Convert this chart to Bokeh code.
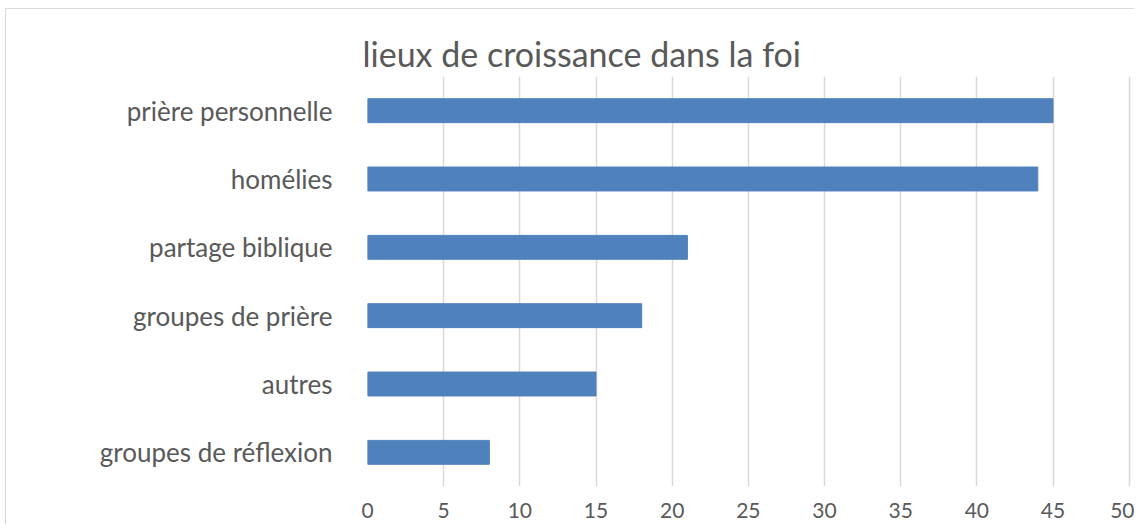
from bokeh.plotting import figure
from bokeh.models import FactorRange, Range1d, FixedTicker
from bokeh.embed import file_html
from bokeh.resources import INLINE

categories = ["prière personnelle", "homélies", "partage biblique",
              "groupes de prière", "autres", "groupes de réflexion"]
values = [45, 44, 21, 18, 15, 8]
x_ticks = [0, 5, 10, 15, 20, 25, 30, 35, 40, 45, 50]

FONT = "Lato"
TEXT = "#595959"

p = figure(width=1134, height=524, output_backend="svg", toolbar_location=None,
           y_range=FactorRange(*list(reversed(categories)), range_padding=0),
           x_range=Range1d(0, 50.35),
           title="lieux de croissance dans la foi",
           min_border_left=367, min_border_right=0,
           min_border_top=76, min_border_bottom=38)

p.hbar(y=categories, right=values, left=0, height=0.35,
       fill_color="#4F81BD", line_color="#4F81BD")

p.title.text_font = FONT
p.title.text_font_size = "34px"
p.title.text_font_style = "normal"
p.title.text_color = TEXT
p.title.offset = -5
p.title.standoff = 6

p.outline_line_color = None
p.border_fill_color = None
p.background_fill_color = "white"
p.styles = {
    "background-color": "white",
    "background-image": "linear-gradient(#d9d9d9,#d9d9d9), linear-gradient(#d9d9d9,#d9d9d9)",
    "background-position": "5px 8px, 5px 8px",
    "background-size": "100% 1px, 1px 100%",
    "background-repeat": "no-repeat",
}

p.xaxis.ticker = FixedTicker(ticks=x_ticks)
p.xaxis.axis_line_color = None
p.xaxis.major_tick_line_color = None
p.xaxis.minor_tick_line_color = None
p.xaxis.major_label_text_font = FONT
p.xaxis.major_label_text_font_size = "21px"
p.xaxis.major_label_text_color = TEXT
p.xaxis.major_label_standoff = 10

p.yaxis.axis_line_color = None
p.yaxis.major_tick_line_color = None
p.yaxis.minor_tick_line_color = None
p.yaxis.major_label_text_font = FONT
p.yaxis.major_label_text_font_size = "26px"
p.yaxis.major_label_text_color = TEXT
p.yaxis.major_label_standoff = 29

p.xgrid.grid_line_color = "#d9d9d9"
p.xgrid.grid_line_width = 1.5
p.ygrid.grid_line_color = None

open("out.html", "w").write(file_html(p, INLINE))
